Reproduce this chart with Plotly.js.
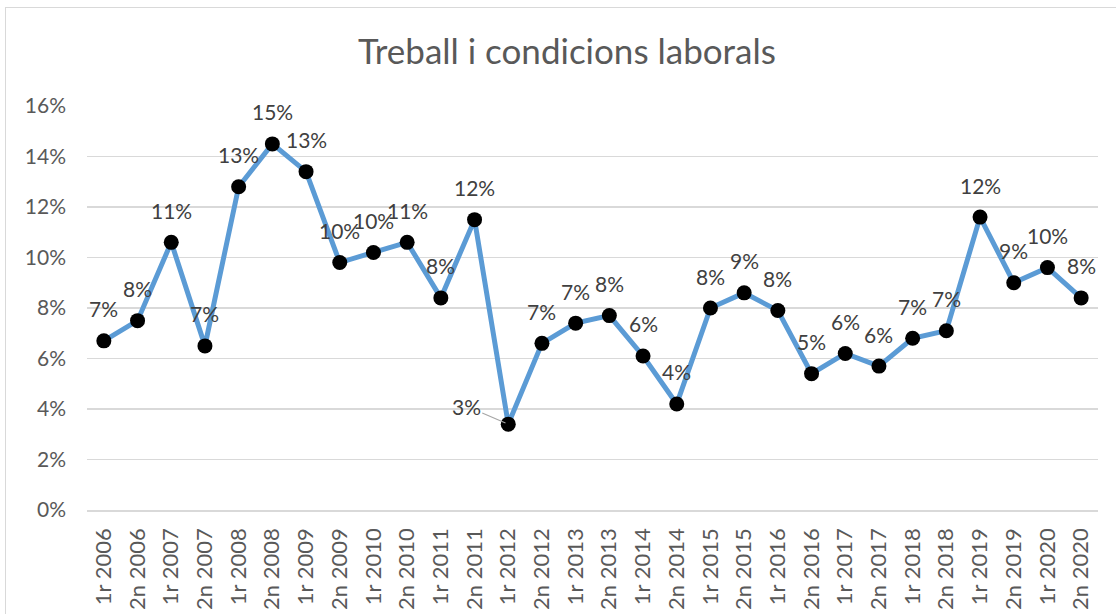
<!DOCTYPE html>
<html>
<head>
<meta charset="utf-8">
<script src="https://cdn.plot.ly/plotly-3.0.1.min.js"></script>
<style>
  html, body { margin: 0; padding: 0; background: #fff; }
  #wrap { position: relative; width: 1116px; height: 614px; overflow: hidden; }
  #chart { position: absolute; left: 0; top: 0; width: 1116px; height: 614px; }
  #frame { position: absolute; left: 5px; top: 7px; width: 1120px; height: 640px;
           border: 1.5px solid #d9d9d9; box-sizing: border-box; pointer-events: none; }
</style>
</head>
<body>
<div id="wrap">
  <div id="chart"></div>
  <div id="frame"></div>
</div>
<script>
const titleText = 'Treball i condicions laborals';

const periods = [
  '1r 2006','2n 2006','1r 2007','2n 2007','1r 2008','2n 2008','1r 2009','2n 2009',
  '1r 2010','2n 2010','1r 2011','2n 2011','1r 2012','2n 2012','1r 2013','2n 2013',
  '1r 2014','2n 2014','1r 2015','2n 2015','1r 2016','2n 2016','1r 2017','2n 2017',
  '1r 2018','2n 2018','1r 2019','2n 2019','1r 2020','2n 2020'
];

// percentage values
const values = [
  6.7, 7.5, 10.6, 6.5, 12.8, 14.5, 13.4, 9.8,
  10.2, 10.6, 8.4, 11.5, 3.4, 6.6, 7.4, 7.7,
  6.1, 4.2, 8.0, 8.6, 7.9, 5.4, 6.2, 5.7,
  6.8, 7.1, 11.6, 9.0, 9.6, 8.4
];

const yTickVals = [0, 2, 4, 6, 8, 10, 12, 14, 16];

const labelFont = { family: 'Lato, "Open Sans", sans-serif', size: 21, color: '#404040' };

const annotations = periods.map((p, i) => {
  const txt = Math.round(values[i]) + '%';
  if (i === 12) {
    return {
      x: p, y: values[i], xref: 'x', yref: 'y', text: txt,
      showarrow: true, arrowhead: 0, arrowwidth: 1.2, arrowcolor: '#a6a6a6',
      ax: -42, ay: -18, standoff: 3, font: labelFont
    };
  }
  return {
    x: p, y: values[i], xref: 'x', yref: 'y', text: txt,
    showarrow: false, yshift: 32, font: labelFont
  };
});

const trace = {
  type: 'scatter',
  mode: 'lines+markers',
  x: periods,
  y: values,
  line: { color: '#5B9BD5', width: 5 },
  marker: { color: '#000000', size: 15 },
  hoverinfo: 'x+y',
  cliponaxis: false
};

const layout = {
  width: 1116,
  height: 614,
  margin: { l: 87, r: 18, t: 106, b: 104 },
  paper_bgcolor: '#ffffff',
  plot_bgcolor: '#ffffff',
  showlegend: false,
  title: {
    text: titleText,
    x: 0.508, xanchor: 'center',
    y: 0.915, yanchor: 'middle',
    font: { family: 'Lato, "Open Sans", sans-serif', size: 35, color: '#595959' }
  },
  xaxis: {
    type: 'category',
    range: [-0.5, periods.length - 0.5],
    autorange: false,
    tickangle: -90,
    tickfont: { family: 'Lato, "Open Sans", sans-serif', size: 22, color: '#595959' },
    showgrid: false,
    showline: true,
    linecolor: '#d9d9d9',
    linewidth: 1.5,
    ticks: '',
    ticklabelstandoff: 8,
    fixedrange: true
  },
  yaxis: {
    range: [0, 16],
    tickvals: yTickVals,
    ticktext: yTickVals.map(v => v + '%'),
    tickfont: { family: 'Lato, "Open Sans", sans-serif', size: 21, color: '#595959' },
    showgrid: true,
    gridcolor: '#d9d9d9',
    gridwidth: 1.5,
    zeroline: false,
    showline: false,
    ticks: '',
    ticklabelstandoff: 20,
    fixedrange: true
  },
  annotations: annotations
};

Plotly.newPlot('chart', [trace], layout, { displayModeBar: false, staticPlot: true });
</script>
</body>
</html>
